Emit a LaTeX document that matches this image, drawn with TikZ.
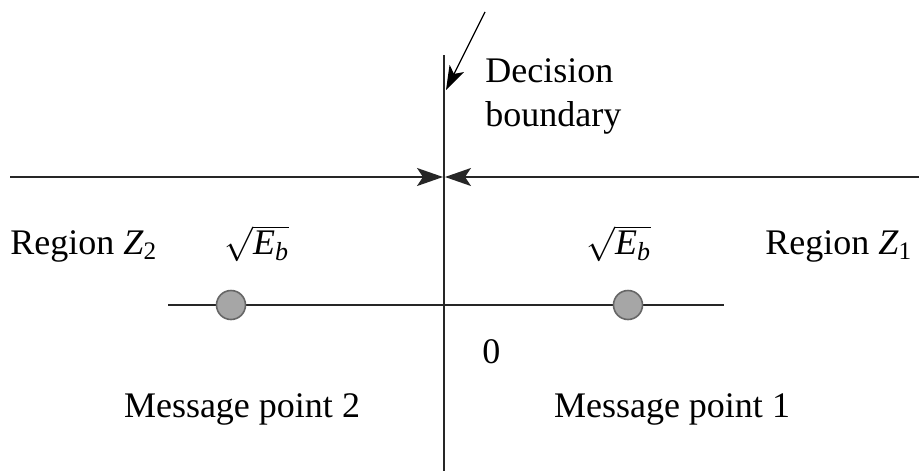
\documentclass[tikz,border=0pt]{standalone}
\usepackage{fontspec}
\setmainfont{Liberation Serif}
\usetikzlibrary{arrows.meta}
\begin{document}
\begin{tikzpicture}[x=0.5pt,y=-0.5pt,
  font=\fontsize{18}{22}\selectfont,
  ln/.style={line width=0.9pt, draw=black!85},
  tipr/.style={-{Stealth[length=13pt,width=9pt,inset=3pt]}},
  pt/.style={circle, minimum size=14.5pt, inner sep=0pt, fill=black!35, draw=black!60, line width=0.8pt},
  lbl/.style={anchor=base west, inner sep=0pt}]
\useasboundingbox (0,0) rectangle (919,471);
% coordinates
\coordinate (vtop) at (444,55);
\coordinate (vbot) at (444,471);
\coordinate (hl) at (10,177);
\coordinate (hr) at (919,177);
\coordinate (tipL) at (443,177);
\coordinate (tipR) at (445,177);
\coordinate (as) at (485,12);
\coordinate (ae) at (446,90);
\coordinate (ll) at (168,305);
\coordinate (lr) at (724,305);
% lines
\draw[ln] (vtop) -- (vbot);
\draw[ln, tipr] (hl) -- (tipL);
\draw[ln, tipr] (hr) -- (tipR);
\draw[line width=0.6pt, -{Stealth[length=12pt,width=8pt,inset=3pt]}] (as) -- (ae);
\draw[ln] (ll) -- (lr);
% message points
\node[pt] (m2) at (231,305) {};
\node[pt] (m1) at (628,305) {};
% labels
\node[lbl] (dec) at (485,82) {Decision};
\node[lbl] (bnd) at (485,126) {boundary};
\node[lbl] (rz2) at (10,254) {Region \textit{Z}\textsubscript{2}};
\node[lbl] (eb2) at (224,254) {$\sqrt{\mbox{\itshape E}_{\mbox{\fontsize{13}{15}\selectfont\itshape b}}}$};
\node[lbl] (eb1) at (586,254) {$\sqrt{\mbox{\itshape E}_{\mbox{\fontsize{13}{15}\selectfont\itshape b}}}$};
\node[lbl] (rz1) at (765,254) {Region \textit{Z}\textsubscript{1}};
\node[lbl] (zero) at (482,363) {0};
\node[lbl, anchor=base] (mp2) at (242,417) {Message point 2};
\node[lbl, anchor=base] (mp1) at (672,417) {Message point 1};
\end{tikzpicture}
\end{document}
